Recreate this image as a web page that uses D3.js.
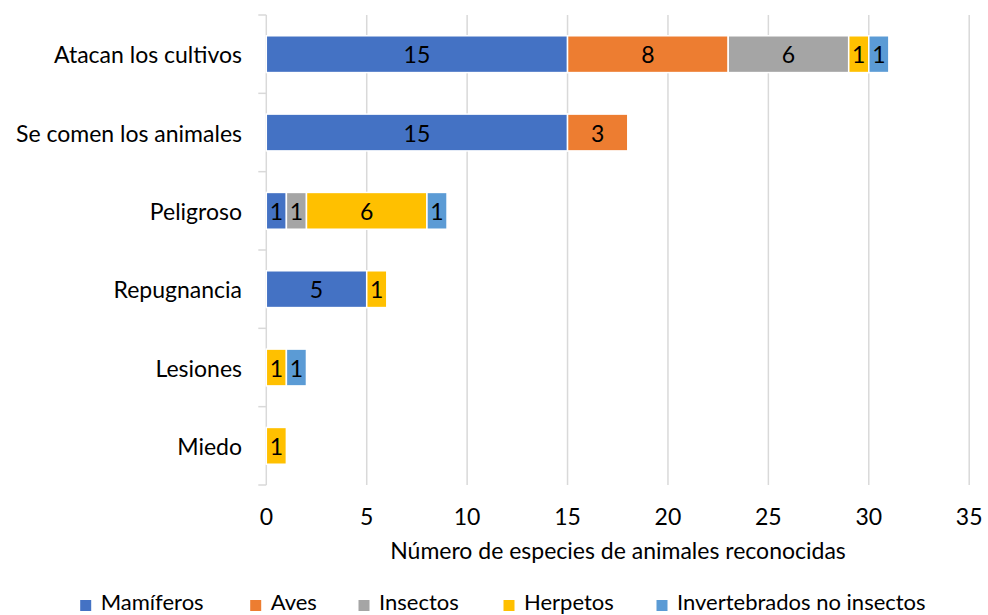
<!DOCTYPE html>
<html><head><meta charset="utf-8">
<script src="https://cdn.jsdelivr.net/npm/d3@7"></script>
<style>body{margin:0;background:#fff}svg{display:block}text{font-family:Lato,"Open Sans",sans-serif;fill:#000}</style>
</head><body><svg id="c" width="988" height="615"></svg>
<script>
const categories = ["Atacan los cultivos","Se comen los animales","Peligroso","Repugnancia","Lesiones","Miedo"];
const seriesNames = ["Mamíferos","Aves","Insectos","Herpetos","Invertebrados no insectos"];
const mamiferos = [15,15,1,5,0,0];
const aves = [8,3,0,0,0,0];
const insectos = [6,0,1,0,0,0];
const herpetos = [1,0,6,1,1,1];
const invertebrados = [1,0,1,0,1,0];
const colors = ["#4472C4","#ED7D31","#A5A5A5","#FFC000","#5B9BD5"];
const xTicks = [0,5,10,15,20,25,30,35];
const axisTitle = "Número de especies de animales reconocidas";

const seriesVals = [mamiferos,aves,insectos,herpetos,invertebrados];
const rows = categories.map((c,i)=>{const o={cat:c};seriesNames.forEach((s,j)=>o[s]=seriesVals[j][i]);return o;});
const stack = d3.stack().keys(seriesNames)(rows);

const FS = 23;
const svg = d3.select("#c");
const x = d3.scaleLinear().domain([0,35]).range([266.3,969.2]);
const y = d3.scaleBand().domain(categories).range([15,485]).paddingInner(0.53).paddingOuter(0.265);
const band = d3.scaleBand().domain(categories).range([15,485]);

// gridlines
svg.append("g").selectAll("line").data(xTicks.slice(1)).join("line")
  .attr("x1",d=>x(d)).attr("x2",d=>x(d)).attr("y1",15).attr("y2",485)
  .attr("stroke","#d9d9d9").attr("stroke-width",1.5);

// y axis line and ticks
svg.append("line").attr("x1",x(0)).attr("x2",x(0)).attr("y1",15).attr("y2",485).attr("stroke","#d9d9d9").attr("stroke-width",1.5);
const bounds = categories.map(c=>band(c)).concat([485]);
svg.append("g").selectAll("line").data(bounds).join("line")
  .attr("x1",x(0)-8).attr("x2",x(0)).attr("y1",d=>d).attr("y2",d=>d)
  .attr("stroke","#d9d9d9").attr("stroke-width",1.5);

// bars
const g = svg.append("g");
stack.forEach((s,si)=>{
  const sg = g.append("g");
  sg.selectAll("rect").data(s.filter(d=>d[1]-d[0]>0)).join("rect")
    .attr("x",d=>x(d[0])).attr("width",d=>x(d[1])-x(d[0]))
    .attr("y",d=>y(d.data.cat)).attr("height",y.bandwidth())
    .attr("fill",colors[si]).attr("stroke","#fff").attr("stroke-width",1.5);
  sg.selectAll("text").data(s.filter(d=>d[1]-d[0]>0)).join("text")
    .attr("x",d=>(x(d[0])+x(d[1]))/2).attr("y",d=>y(d.data.cat)+y.bandwidth()/2)
    .attr("text-anchor","middle").attr("dominant-baseline","central")
    .attr("font-size",FS).text(d=>d[1]-d[0]);
});

// category labels
svg.append("g").selectAll("text").data(categories).join("text")
  .attr("x",242).attr("y",d=>band(d)+band.bandwidth()/2)
  .attr("text-anchor","end").attr("dominant-baseline","central").attr("font-size",FS).text(d=>d);

// x tick labels
svg.append("g").selectAll("text").data(xTicks).join("text")
  .attr("x",d=>x(d)).attr("y",516).attr("text-anchor","middle").attr("dominant-baseline","central")
  .attr("font-size",FS).text(d=>d);

svg.append("text").attr("x",618).attr("y",550).attr("text-anchor","middle").attr("dominant-baseline","central")
  .attr("font-size",FS).text(axisTitle);

// legend
const legX = [100.7,270.7,379,524,677];
const lg = svg.append("g").selectAll("g").data(seriesNames).join("g").attr("transform",(d,i)=>`translate(${legX[i]},610)`);
lg.append("rect").attr("x",-20.5).attr("y",-10).attr("width",11).attr("height",11).attr("fill",(d,i)=>colors[i]);
lg.append("text").attr("x",0).attr("y",0).attr("font-size",22).text(d=>d);
</script></body></html>
